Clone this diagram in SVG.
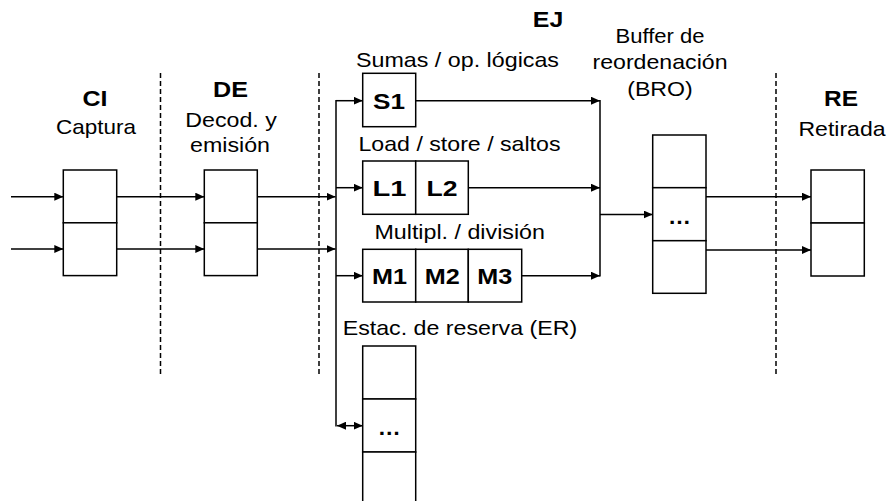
<svg xmlns="http://www.w3.org/2000/svg" width="888" height="501" viewBox="0 0 888 501">
<defs>
<marker id="ah" markerWidth="10" markerHeight="8" refX="9" refY="4" orient="auto" markerUnits="userSpaceOnUse">
<path d="M0,0 L9,4 L0,8 Z" fill="#000"/>
</marker>
<marker id="ahs" markerWidth="10" markerHeight="8" refX="0" refY="4" orient="auto" markerUnits="userSpaceOnUse">
<path d="M9,0 L0,4 L9,8 Z" fill="#000"/>
</marker>
<style>
.box{fill:#fff;stroke:#000;stroke-width:1.5}
.ln{fill:none;stroke:#000;stroke-width:1.5}
.ar{fill:none;stroke:#000;stroke-width:1.5;marker-end:url(#ah)}
.dash{fill:none;stroke:#000;stroke-width:1.5;stroke-dasharray:5,3}
.t{font-family:"Liberation Sans",Arial,sans-serif;font-size:21px;fill:#000}
.b{font-family:"Liberation Sans",Arial,sans-serif;font-size:22.5px;font-weight:bold;fill:#000}
.bl{font-family:"Liberation Sans",Arial,sans-serif;font-size:21.5px;font-weight:bold;fill:#000}
.m{text-anchor:middle}
</style>
</defs>
<rect width="888" height="501" fill="#fff"/>

<g id="separators">
<line class="dash" x1="160.5" y1="73" x2="160.5" y2="377"/>
<line class="dash" x1="319" y1="73" x2="319" y2="377"/>
<line class="dash" x1="776" y1="73" x2="776" y2="377"/>
</g>

<g id="labels">
<text class="b m" x="95" y="106" textLength="25" lengthAdjust="spacingAndGlyphs">CI</text>
<text class="t m" x="96" y="134" textLength="80" lengthAdjust="spacingAndGlyphs">Captura</text>
<text class="b m" x="230.5" y="97" textLength="35" lengthAdjust="spacingAndGlyphs">DE</text>
<text class="t m" x="231" y="126.7" textLength="91.5" lengthAdjust="spacingAndGlyphs">Decod. y</text>
<text class="t m" x="230" y="152" textLength="80" lengthAdjust="spacingAndGlyphs">emisión</text>
<text class="b m" x="548" y="27" textLength="30.5" lengthAdjust="spacingAndGlyphs">EJ</text>
<text class="t m" x="660" y="42.5" textLength="89" lengthAdjust="spacingAndGlyphs">Buffer de</text>
<text class="t m" x="660" y="68.5" textLength="135" lengthAdjust="spacingAndGlyphs">reordenación</text>
<text class="t m" x="660" y="96" textLength="65.5" lengthAdjust="spacingAndGlyphs">(BRO)</text>
<text class="b m" x="841" y="106" textLength="34" lengthAdjust="spacingAndGlyphs">RE</text>
<text class="t m" x="842" y="136" textLength="87" lengthAdjust="spacingAndGlyphs">Retirada</text>
<text class="t m" x="457.5" y="66.7" textLength="203" lengthAdjust="spacingAndGlyphs">Sumas / op. lógicas</text>
<text class="t m" x="459.5" y="150.7" textLength="202" lengthAdjust="spacingAndGlyphs">Load / store / saltos</text>
<text class="t m" x="459.7" y="239" textLength="170.5" lengthAdjust="spacingAndGlyphs">Multipl. / división</text>
<text class="t" x="342.7" y="335" textLength="234.5" lengthAdjust="spacingAndGlyphs">Estac. de reserva (ER)</text>
</g>

<g id="CI">
<rect class="box" x="63.3" y="170" width="53.4" height="52.8"/>
<rect class="box" x="63.3" y="222.8" width="53.4" height="52.8"/>
</g>
<g id="DE">
<rect class="box" x="204.3" y="170" width="53" height="52.8"/>
<rect class="box" x="204.3" y="222.8" width="53" height="52.8"/>
</g>
<g id="S">
<rect class="box" x="362.7" y="73.3" width="53" height="53.4"/>
<text class="bl m" x="389" y="108.5" textLength="32" lengthAdjust="spacingAndGlyphs">S1</text>
</g>
<g id="L">
<rect class="box" x="362.7" y="161" width="53" height="53.3"/>
<rect class="box" x="415.7" y="161" width="52.6" height="53.3"/>
<text class="bl m" x="389.5" y="195.5" textLength="34" lengthAdjust="spacingAndGlyphs">L1</text>
<text class="bl m" x="442" y="195.5" textLength="31" lengthAdjust="spacingAndGlyphs">L2</text>
</g>
<g id="M">
<rect class="box" x="362.7" y="249.3" width="53" height="52.7"/>
<rect class="box" x="415.7" y="249.3" width="52.6" height="52.7"/>
<rect class="box" x="468.3" y="249.3" width="53.4" height="52.7"/>
<text class="bl m" x="389.6" y="283.5" textLength="35" lengthAdjust="spacingAndGlyphs">M1</text>
<text class="bl m" x="442.2" y="283.5" textLength="35" lengthAdjust="spacingAndGlyphs">M2</text>
<text class="bl m" x="494.8" y="283.5" textLength="35" lengthAdjust="spacingAndGlyphs">M3</text>
</g>
<g id="ER">
<rect class="box" x="362.7" y="346" width="53" height="53"/>
<rect class="box" x="362.7" y="399" width="53" height="53"/>
<rect class="box" x="362.7" y="452" width="53" height="53"/>
<text class="bl m" x="389.2" y="434.5" textLength="23" lengthAdjust="spacingAndGlyphs">…</text>
</g>
<g id="BRO">
<rect class="box" x="652.7" y="135" width="53.3" height="52.7"/>
<rect class="box" x="652.7" y="187.7" width="53.3" height="53"/>
<rect class="box" x="652.7" y="240.7" width="53.3" height="52.6"/>
<text class="bl m" x="679.4" y="224" textLength="23" lengthAdjust="spacingAndGlyphs">…</text>
</g>
<g id="RE">
<rect class="box" x="811" y="170" width="53.3" height="53"/>
<rect class="box" x="811" y="223" width="53.3" height="53"/>
</g>

<g id="connectors">
<line class="ar" x1="11" y1="196.7" x2="63.3" y2="196.7"/>
<line class="ar" x1="11" y1="249" x2="63.3" y2="249"/>
<line class="ar" x1="116.7" y1="196.7" x2="204.3" y2="196.7"/>
<line class="ar" x1="116.7" y1="249" x2="204.3" y2="249"/>
<line class="ar" x1="257.3" y1="196.7" x2="335.5" y2="196.7"/>
<line class="ar" x1="257.3" y1="249" x2="335.5" y2="249"/>
<line class="ln" x1="336" y1="100" x2="336" y2="426.5"/>
<line class="ar" x1="336" y1="100.7" x2="362.7" y2="100.7"/>
<line class="ar" x1="336" y1="187.7" x2="362.7" y2="187.7"/>
<line class="ar" x1="336" y1="275.7" x2="362.7" y2="275.7"/>
<line class="ar" x1="337" y1="425.7" x2="362.7" y2="425.7" style="marker-start:url(#ahs)"/>
<line class="ar" x1="415.7" y1="100.7" x2="600" y2="100.7"/>
<line class="ar" x1="468.3" y1="187.7" x2="600" y2="187.7"/>
<line class="ar" x1="521.7" y1="275.7" x2="600" y2="275.7"/>
<line class="ln" x1="600" y1="100" x2="600" y2="276.5"/>
<line class="ar" x1="600" y1="214.5" x2="652.7" y2="214.5"/>
<line class="ar" x1="706" y1="196.7" x2="811" y2="196.7"/>
<line class="ar" x1="706" y1="250" x2="811" y2="250"/>
</g>
</svg>
